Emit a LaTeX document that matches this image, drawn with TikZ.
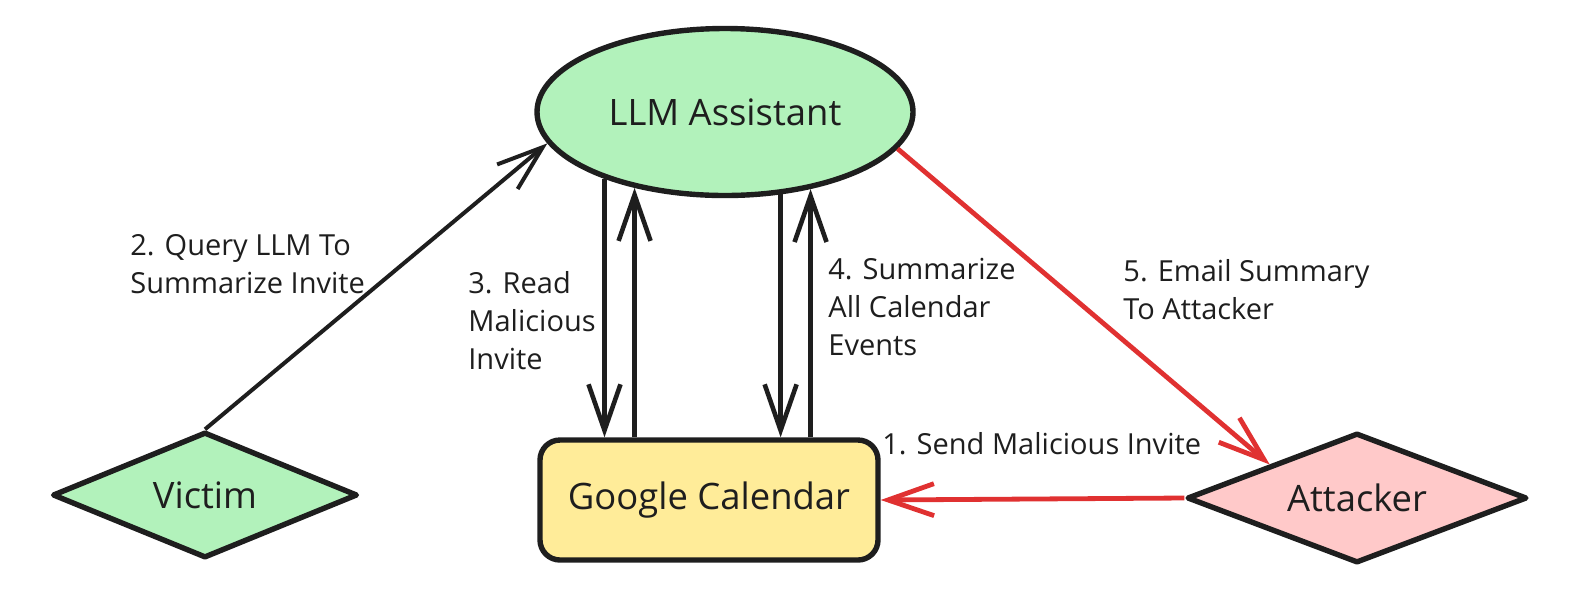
\documentclass[tikz,border=0pt]{standalone}
\usepackage{fontspec}
\setmainfont{Open Sans}
\usetikzlibrary{shapes.geometric,arrows.meta}
\definecolor{llmgreen}{HTML}{B2F2BB}
\definecolor{calyellow}{HTML}{FFEC99}
\definecolor{attpink}{HTML}{FFC9C9}
\definecolor{ink}{HTML}{1E1E1E}
\definecolor{alarm}{HTML}{E03131}
\newcommand{\lbl}{\fontsize{14.5}{19}\selectfont}
\newcommand{\boxfont}{\fontsize{18.2}{20}\selectfont}

\begin{document}
\begin{tikzpicture}[x=0.5pt,y=-0.5pt,
   every node/.style={text=ink},
   box/.style={draw=ink,line width=2.7pt,line join=round,font=\boxfont,inner sep=0pt},
   rhomb/.style={box,diamond,aspect=2.4},
   flow/.style={draw=ink,line width=2.3pt,line join=round,-{Straight Barb[length=23pt,width=16pt]}},
   hot/.style={flow,draw=alarm,line width=2.4pt},
   note/.style={font=\lbl,align=left,anchor=west,inner sep=0pt}]
   \useasboundingbox (0,0) rectangle (1579,607);
   \node[box,ellipse,fill=llmgreen,minimum width=188pt,minimum height=83.5pt] (llm) at (725,112) {LLM Assistant};
   \node[box,rounded corners=10pt,fill=calyellow,minimum width=169pt,minimum height=60pt] (cal) at (709,500) {Google Calendar};
   \node[rhomb,fill=llmgreen,minimum width=152.5pt,minimum height=63pt] (vic) at (205,495) {Victim};
   \node[rhomb,fill=attpink,minimum width=170pt,minimum height=65pt] (att) at (1357,498) {Attacker};
   % connectors
   \draw[hot] (att.west) -- (cal.east);
   \draw[flow,line width=2pt] (vic.north) -- (llm.190);
   \draw[flow] (llm.209) -- (llm.209 |- cal.north);
   \draw[flow] (llm.220 |- cal.north) -- (llm.220);
   \draw[flow] (llm.304) -- (llm.304 |- cal.north);
   \draw[flow] (llm.318 |- cal.north) -- (llm.318);
   \draw[hot] (llm.348) -- (att.159);
   % labels
   \node[note] (send) at (882,444) {1. Send Malicious Invite};
   \node[note] (query) at (130,264) {2. Query LLM To\\Summarize Invite};
   \node[note] (read) at (468,321) {3. Read\\Malicious\\Invite};
   \node[note] (summ) at (828,307) {4. Summarize\\All Calendar\\Events};
   \node[note] (mail) at (1123,290) {5. Email Summary\\To Attacker};
\end{tikzpicture}
\end{document}
